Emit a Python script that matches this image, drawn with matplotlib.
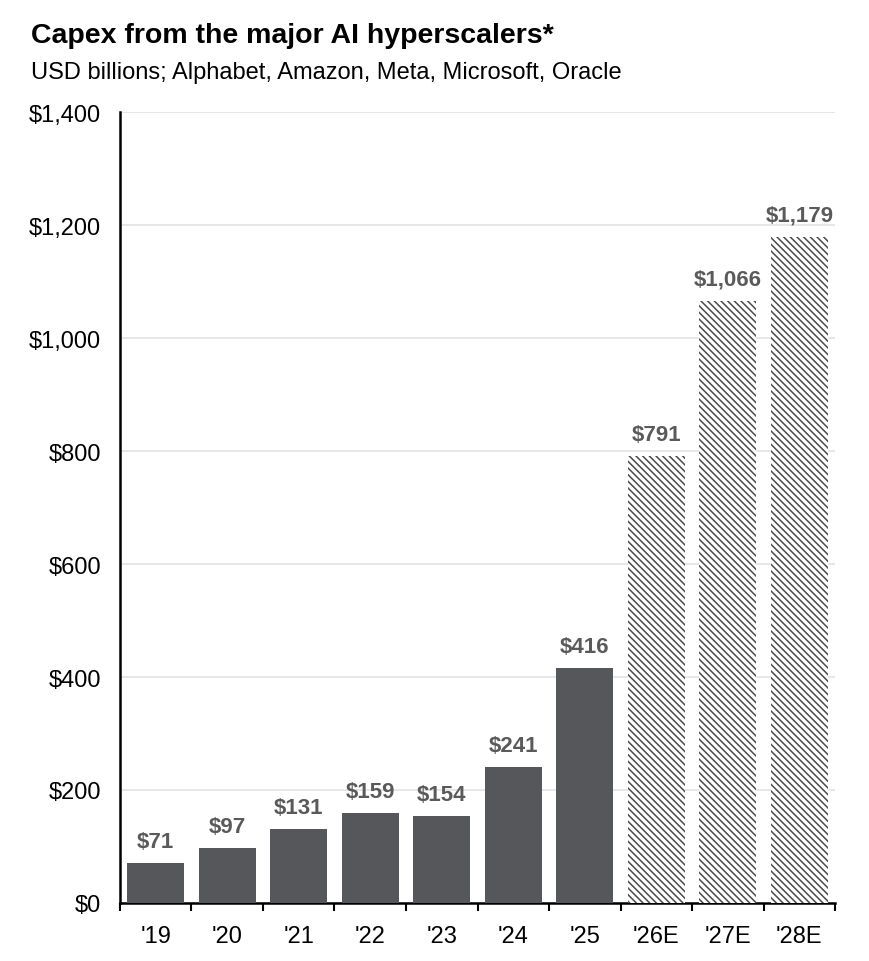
import matplotlib
matplotlib.use("Agg")
import matplotlib.pyplot as plt

plt.rcParams['font.family'] = ['Liberation Sans', 'DejaVu Sans']
plt.rcParams['hatch.linewidth'] = 1.1

years = ["'19", "'20", "'21", "'22", "'23", "'24", "'25", "'26E", "'27E", "'28E"]
capex = [71, 97, 131, 159, 154, 241, 416, 791, 1066, 1179]
is_estimate = [False] * 7 + [True] * 3

bar_color = '#55575a'
label_color = '#5a5a5a'

fig = plt.figure(figsize=(8.69, 9.62), dpi=100)
ax = fig.add_axes([0.138, 0.0603, 0.823, 0.8222])

x = range(len(years))
for i, (v, est) in enumerate(zip(capex, is_estimate)):
    if est:
        ax.bar(i, v, width=0.8, color='white', edgecolor='#4a4a4a',
               hatch='\\\\\\\\\\', linewidth=0, zorder=3)
    else:
        ax.bar(i, v, width=0.8, color=bar_color, linewidth=0, zorder=3)
    ax.text(i, v + 20, f'${v:,}', ha='center', va='bottom', fontsize=16,
            fontweight='bold', color=label_color)

ax.set_xlim(-0.5, 9.5)
ax.set_ylim(0, 1400)
ax.set_yticks(range(0, 1401, 200))
ax.set_yticklabels([f'${t:,}' for t in range(0, 1401, 200)], fontsize=17)
ax.yaxis.grid(True, color='#e3e3e3', linewidth=1.2, zorder=0)
ax.tick_params(axis='y', length=0, pad=13.5)

# category labels between boundary ticks
ax.set_xticks([i + 0.5 for i in range(-1, len(years))])
ax.set_xticklabels([])
ax.set_xticks(list(x), minor=True)
ax.set_xticklabels(years, minor=True, fontsize=17)
ax.tick_params(axis='x', which='major', length=6, width=1.5, direction='out')
ax.tick_params(axis='x', which='minor', length=0, pad=16)

for s in ['top', 'right']:
    ax.spines[s].set_visible(False)
ax.spines['left'].set_linewidth(1.8)
ax.spines['bottom'].set_linewidth(1.8)

fig.text(0.036, 0.963, 'Capex from the major AI hyperscalers*', fontsize=20.5,
         fontweight='bold', ha='left', va='center')
fig.text(0.036, 0.924, 'USD billions; Alphabet, Amazon, Meta, Microsoft, Oracle',
         fontsize=17, ha='left', va='center')

fig.savefig('out.png', dpi=100, facecolor='white')
